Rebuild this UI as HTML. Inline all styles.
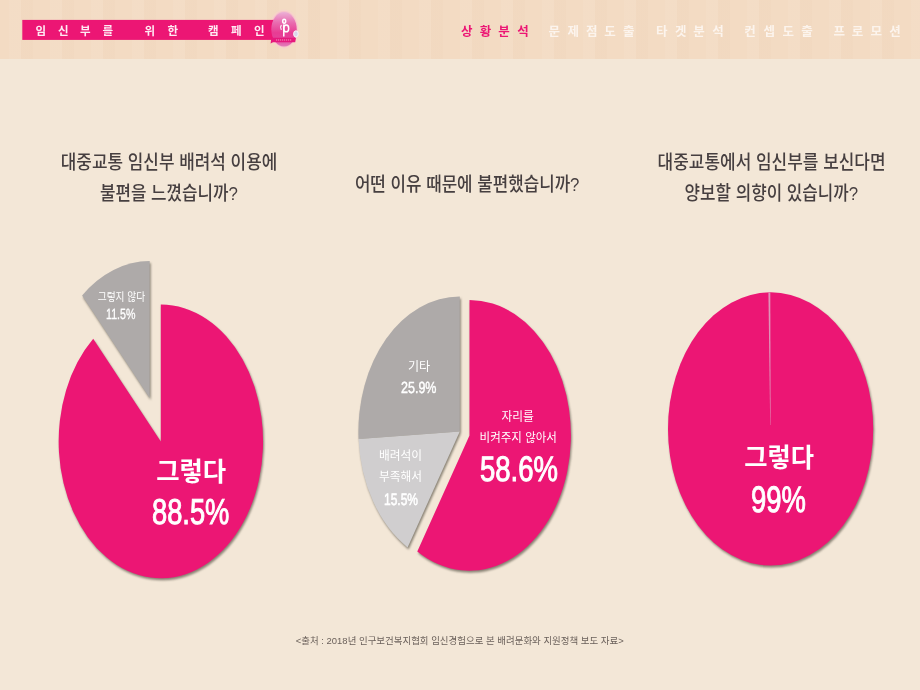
<!DOCTYPE html>
<html lang="ko"><head><meta charset="utf-8"><title>임신부를 위한 캠페인 - 상황분석</title>
<style>
html,body{margin:0;padding:0}
body{position:relative;width:920px;height:690px;overflow:hidden;background:#f3e7d7;font-family:"Liberation Sans",sans-serif}
#hdr{position:absolute;left:-8px;top:-8px;width:936px;height:67px;background:#f3dbc3 repeating-linear-gradient(90deg,rgba(255,255,255,0) 0 17px,rgba(255,255,255,.05) 17px 29px,rgba(200,150,110,.03) 29px 41px)}
#page{position:absolute;left:0;top:0;width:920px;height:690px;filter:blur(.45px)}
#art{position:absolute;left:0;top:0;width:920px;height:690px}
#art text{font-family:"Liberation Sans","Noto Sans CJK KR",sans-serif}
.pie{filter:drop-shadow(1.8px 2.2px 0.9px rgba(60,56,44,.58))}
.n{position:absolute;margin:0;color:#fff;white-space:nowrap;line-height:1;transform-origin:0 0;text-rendering:geometricPrecision}
</style></head><body>
<div id="page"><div id="hdr"></div>
<svg id="art" width="920" height="690" viewBox="0 0 920 690">
<defs><linearGradient id="lg" x1="0" y1="0" x2="0" y2="1"><stop offset="0" stop-color="#ecb0d6"/><stop offset=".3" stop-color="#e96db0"/><stop offset=".6" stop-color="#e83c93"/><stop offset=".78" stop-color="#e4429a"/><stop offset="1" stop-color="#e27fbb"/></linearGradient></defs>
<g class="pie">
<path d="M160.8 441.4L160.8 304.5A102.2 136.9 0 1 1 93.2 338.8Z" fill="#ec1674"/>
<path d="M149.7 398.1L82.1 295.4A102.2 136.9 0 0 1 149.7 261.1Z" fill="#aeaaa9"/>
</g><g class="pie">
<path d="M459.8 431.5L358.6 439.1A101.4 135.1 0 0 1 459.8 296.4Z" fill="#aeaaa9"/>
<path d="M459.8 431.5L407.6 547.4A101.4 135.1 0 0 1 358.6 439.1Z" fill="#d0cecf"/>
<path d="M469.5 435.4L469.5 299.9A101.5 135.4 0 1 1 417.3 551.5Z" fill="#ec1674"/>
</g><g class="pie">
<ellipse cx="770.6" cy="428.9" rx="102.6" ry="136.6" fill="#ec1674"/>
</g>
<path d="M768.4 292.4L770.3 292.4L770.6 425L770.2 425Z" fill="#de93b8"/>
<g id="logo">
<ellipse cx="284" cy="29.2" rx="15" ry="19.6" fill="#f9cfd2" opacity=".5"/>
<ellipse cx="284" cy="29.2" rx="13.6" ry="18.2" fill="#f6bccb" opacity=".7"/>
<rect x="22.3" y="19.9" width="256" height="20" fill="#ec1674"/>
<ellipse cx="284" cy="29.3" rx="12.7" ry="17.2" fill="url(#lg)"/>
<path d="M271.4 37.7L296 37.7L295.2 42.3L273 42.3L270.6 43.6Z" fill="#e6187c"/>
<path d="M276 40H292" stroke="#f4a3c8" stroke-width=".9" stroke-dasharray="1.2 .8"/>
<ellipse cx="295.9" cy="33.9" rx="2.3" ry="3.1" fill="#d9d6ea" stroke="#fbf3f6" stroke-width="1"/>
<g fill="none" stroke="#fff" stroke-width="1.5" stroke-linecap="round"><ellipse cx="284.2" cy="21.3" rx="1.5" ry="2"/><path d="M283.8 25V36"/><ellipse cx="286.2" cy="28.4" rx="2.5" ry="3.4"/><path d="M281.2 25.4Q279.8 27.4 281.2 29.4" stroke-width="1.1"/></g>
</g>
<text x="35.5 58 80 102.5 125 144.5 167.5 190 208 231 254" y="35.3" font-size="11.5" font-weight="bold" fill="#ffeaf3">임신부를 위한 캠페인</text>
<text x="461 479.8 498.3 517.2" y="36.3" font-size="12.5" font-weight="bold" fill="#ec1674">상황분석</text>
<text x="548.5 567.5 586 604.3 623" y="35.6" font-size="12.5" font-weight="bold" fill="#fcf4ed">문제점도출</text>
<text x="656 675 693.3 712.2" y="35.6" font-size="12.5" font-weight="bold" fill="#fcf4ed">타겟분석</text>
<text x="744.2 763.4 782.6 801.2" y="35.6" font-size="12.5" font-weight="bold" fill="#fcf4ed">컨셉도출</text>
<text x="833.5 851.7 870.4 889.3" y="35.6" font-size="12.5" font-weight="bold" fill="#fcf4ed">프로모션</text>
<text x="60.8" y="169" font-size="19" font-weight="500" fill="#463f40" textLength="216.5" lengthAdjust="spacingAndGlyphs">대중교통 임신부 배려석 이용에</text>
<text x="99.9" y="199.5" font-size="19" font-weight="500" fill="#463f40" textLength="138" lengthAdjust="spacingAndGlyphs">불편을 느꼈습니까?</text>
<text x="354.9" y="191" font-size="19" font-weight="500" fill="#463f40" textLength="224.6" lengthAdjust="spacingAndGlyphs">어떤 이유 때문에 불편했습니까?</text>
<text x="657.6" y="169" font-size="19" font-weight="500" fill="#463f40" textLength="228" lengthAdjust="spacingAndGlyphs">대중교통에서 임신부를 보신다면</text>
<text x="684.6" y="200" font-size="19" font-weight="500" fill="#463f40" textLength="173.5" lengthAdjust="spacingAndGlyphs">양보할 의향이 있습니까?</text>
<text x="97.7" y="301.3" font-size="11" fill="#fff" textLength="47.5" lengthAdjust="spacingAndGlyphs">그렇지 않다</text>
<text x="156.2" y="480.5" font-size="26" font-weight="bold" fill="#fff" textLength="70" lengthAdjust="spacingAndGlyphs">그렇다</text>
<text x="408" y="371.4" font-size="12.5" fill="#fff" textLength="22.2" lengthAdjust="spacingAndGlyphs">기타</text>
<text x="501.5" y="420.6" font-size="12" fill="#fff" textLength="32.4" lengthAdjust="spacingAndGlyphs">자리를</text>
<text x="479.6" y="441.8" font-size="12" fill="#fff" textLength="77.3" lengthAdjust="spacingAndGlyphs">비켜주지 않아서</text>
<text x="378.9" y="460.4" font-size="12" fill="#fff" textLength="43.1" lengthAdjust="spacingAndGlyphs">배려석이</text>
<text x="378.9" y="481.4" font-size="12.5" fill="#fff" textLength="43.1" lengthAdjust="spacingAndGlyphs">부족해서</text>
<text x="744.3" y="467.3" font-size="26" font-weight="bold" fill="#fff" textLength="69.7" lengthAdjust="spacingAndGlyphs">그렇다</text>
<text x="295.8" y="643.8" font-size="9.5" fill="#6b615b" textLength="328" lengthAdjust="spacingAndGlyphs">&lt;출처 : 2018년 인구보건복지협회 임신경험으로 본 배려문화와 지원정책 보도 자료&gt;</text>
</svg>
<div class="n" style="left:105.74px;top:307.79px;font-size:14.78px;font-weight:400;color:#fff;-webkit-text-stroke:0.30px #fff;transform:scale(0.7204,1)">11.5%</div>
<div class="n" style="left:151.71px;top:494.87px;font-size:35.88px;font-weight:400;color:#fff;-webkit-text-stroke:1.00px #fff;transform:scale(0.7605,1)">88.5%</div>
<div class="n" style="left:400.99px;top:379.92px;font-size:16.17px;font-weight:400;color:#fff;-webkit-text-stroke:0.45px #fff;transform:scale(0.7748,1)">25.9%</div>
<div class="n" style="left:479.50px;top:451.94px;font-size:35.45px;font-weight:400;color:#fff;-webkit-text-stroke:1.00px #fff;transform:scale(0.7768,1)">58.6%</div>
<div class="n" style="left:383.89px;top:491.68px;font-size:16.49px;font-weight:400;color:#fff;-webkit-text-stroke:0.60px #fff;transform:scale(0.7282,1)">15.5%</div>
<div class="n" style="left:750.92px;top:481.85px;font-size:36.72px;font-weight:400;color:#fff;-webkit-text-stroke:1.00px #fff;transform:scale(0.7464,1)">99%</div>
</div></body></html>
